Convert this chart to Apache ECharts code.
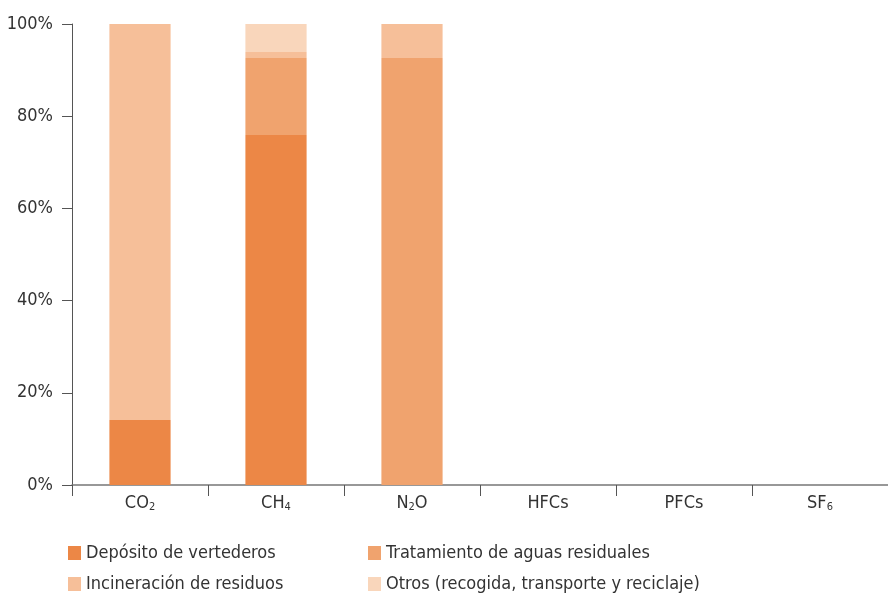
<!DOCTYPE html>
<html>
<head>
<meta charset="utf-8">
<script src="https://cdn.jsdelivr.net/npm/echarts@6/dist/echarts.min.js"></script>
<style>html,body{margin:0;padding:0;background:#fff}#c{width:888px;height:596px}</style>
</head>
<body>
<div id="c"></div>
<script>
var categories = ['CO{s|2}', 'CH{s|4}', 'N{s|2}O', 'HFCs', 'PFCs', 'SF{s|6}'];
var seriesNames = ['Depósito de vertederos', 'Tratamiento de aguas residuales', 'Incineración de residuos', 'Otros (recogida, transporte y reciclaje)'];
var deposito = [14.1, 75.9, 0, 0, 0, 0];
var tratamiento = [0, 16.7, 92.6, 0, 0, 0];
var incineracion = [85.9, 1.3, 7.4, 0, 0, 0];
var otros = [0, 6.1, 0, 0, 0, 0];
var yTicks = [0, 20, 40, 60, 80, 100];

var FONT = '"Liberation Sans Narrow", "DejaVu Sans Condensed", "Roboto", sans-serif';
var colors = ['#EC8746', '#F0A36E', '#F6BF99', '#F9D6BB'];
var chart = echarts.init(document.getElementById('c'));
var seriesData = [deposito, tratamiento, incineracion, otros];
function legendCfg(name, left, top) {
  return {
    data: [name],
    orient: 'horizontal', left: left, top: top, padding: 0,
    itemWidth: 13, itemHeight: 14, icon: 'rect',
    textStyle: { fontFamily: FONT, fontSize: 18, color: '#333' }
  };
}
chart.setOption({
  animation: false,
  color: colors,
  textStyle: { fontFamily: FONT },
  grid: { left: 72, right: 0, top: 24, bottom: 111, containLabel: false },
  legend: [
    legendCfg(seriesNames[0], 68, 544),
    legendCfg(seriesNames[1], 368, 544),
    legendCfg(seriesNames[2], 68, 575),
    legendCfg(seriesNames[3], 368, 575)
  ],
  xAxis: {
    type: 'category',
    data: categories,
    boundaryGap: true,
    axisLine: { lineStyle: { color: '#777', width: 1.5 } },
    axisTick: { show: true, length: 11, interval: 0, lineStyle: { color: '#555' } },
    axisLabel: {
      interval: 0, margin: 9, color: '#333', fontSize: 18, fontFamily: FONT,
      rich: { s: { fontSize: 11, fontFamily: FONT, color: '#333', padding: [8, 0, 0, 0] } }
    }
  },
  yAxis: {
    type: 'value', min: yTicks[0], max: yTicks[yTicks.length - 1], interval: 20,
    axisLine: { show: true, lineStyle: { color: '#555' } },
    axisTick: { show: true, length: 10, lineStyle: { color: '#555' } },
    splitLine: { show: false },
    axisLabel: { formatter: '{value}%', color: '#333', fontSize: 18, fontFamily: FONT, margin: 19 }
  },
  series: seriesData.map(function (d, i) {
    return { name: seriesNames[i], type: 'bar', stack: 'total', barWidth: '45%', data: d };
  })
});
</script>
</body>
</html>
